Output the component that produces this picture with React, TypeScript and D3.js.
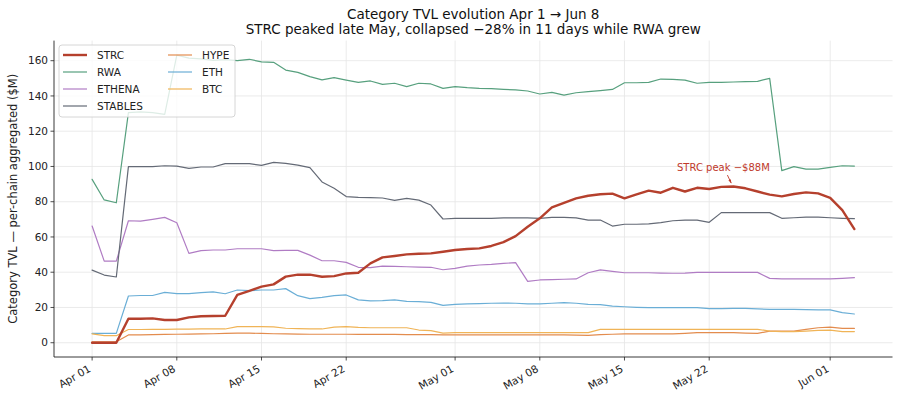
import React from "react";
import * as d3 from "d3";

// daily values, Apr 1 .. Jun 3 ($M)
const strc = [
  0, 0, 0, 13.6, 13.6, 13.8, 12.9, 12.9, 14.4, 15.0, 15.2, 15.3, 27.1, 29.4, 31.8, 33.1,
  37.5, 38.6, 38.6, 37.4, 37.8, 39.3, 39.7, 45.0, 48.4, 49.2, 50.1, 50.5, 50.7, 51.6, 52.6, 53.2,
  53.5, 54.9, 57.1, 60.5, 65.8, 70.6, 76.8, 79.4, 81.9, 83.4, 84.2, 84.6, 81.9, 84.2, 86.3, 85.1,
  87.9, 85.8, 87.9, 87.2, 88.4, 88.6, 87.6, 85.8, 84.0, 83.0, 84.4, 85.3, 84.7, 82.2, 75.2, 64.5,
];
const rwa = [
  92.7, 81.0, 79.4, 130.5, 131.0, 130.5, 129.5, 163.2, 161.5, 161.0, 160.2, 160.6, 160.0, 160.8, 159.3, 159.1,
  154.7, 153.4, 151.0, 149.1, 150.4, 149.0, 147.7, 148.5, 146.6, 147.2, 145.3, 147.2, 146.8, 144.3, 145.3, 144.7,
  144.3, 144.1, 143.7, 143.4, 142.8, 141.1, 142.0, 140.5, 141.8, 142.4, 143.0, 143.7, 147.5, 147.5, 147.7, 149.6,
  149.4, 149.0, 147.2, 147.7, 147.7, 147.9, 148.1, 148.3, 150.0, 97.6, 99.9, 98.5, 98.5, 99.5, 100.4, 100.2,
];
const ethena = [
  66.2, 46.3, 46.3, 69.2, 69.0, 70.0, 71.1, 68.1, 50.7, 52.2, 52.6, 52.6, 53.3, 53.3, 53.3, 52.2,
  52.4, 52.4, 49.7, 46.5, 46.5, 45.6, 42.8, 42.6, 43.5, 43.3, 43.1, 42.9, 42.8, 41.4, 42.2, 43.5,
  44.1, 44.4, 45.0, 45.4, 34.8, 35.6, 35.8, 36.0, 36.2, 39.7, 41.3, 40.5, 39.7, 39.7, 39.7, 39.5,
  39.4, 39.5, 39.9, 39.9, 39.9, 39.9, 39.9, 39.9, 36.5, 36.2, 36.2, 36.2, 36.2, 36.2, 36.5, 36.9,
];
const stables = [
  41.2, 38.4, 37.3, 99.9, 99.9, 99.9, 100.4, 100.2, 98.9, 99.7, 99.7, 101.6, 101.6, 101.6, 100.6, 102.3,
  101.7, 100.8, 99.3, 91.2, 87.6, 82.9, 82.5, 82.3, 82.1, 80.8, 81.9, 80.9, 78.1, 70.2, 70.6, 70.6,
  70.6, 70.6, 70.8, 70.9, 70.8, 70.6, 71.1, 71.1, 70.8, 69.6, 69.6, 66.2, 67.2, 67.2, 67.4, 68.1,
  69.2, 69.6, 69.6, 68.3, 73.8, 73.8, 73.8, 73.8, 73.8, 70.6, 70.9, 71.3, 71.3, 70.9, 70.6, 70.4,
];
const hype = [
  0.5, 0.5, 0.5, 4.4, 4.5, 4.6, 4.7, 4.8, 4.9, 5.0, 5.1, 5.3, 5.4, 5.4, 5.3, 5.1,
  5.0, 4.9, 4.8, 4.8, 4.8, 4.8, 4.7, 4.7, 4.7, 4.7, 4.6, 4.6, 4.6, 4.4, 4.4, 4.4,
  4.4, 4.4, 4.4, 4.4, 4.4, 4.4, 4.4, 4.4, 4.3, 4.2, 4.6, 4.8, 5.0, 5.0, 5.0, 5.0,
  5.0, 5.3, 5.7, 5.7, 5.7, 5.7, 5.5, 5.3, 6.6, 6.6, 6.6, 7.6, 8.5, 8.9, 8.1, 8.1,
];
const eth = [
  5.3, 5.3, 5.3, 26.5, 26.8, 26.8, 28.6, 27.8, 27.8, 28.4, 28.8, 27.8, 29.9, 29.5, 29.9, 29.9,
  30.7, 26.7, 25.0, 25.7, 26.7, 27.1, 24.3, 23.7, 23.9, 24.3, 23.5, 23.3, 22.9, 21.2, 21.8, 22.0,
  22.2, 22.4, 22.5, 22.4, 22.0, 22.0, 22.4, 22.7, 22.4, 21.8, 21.6, 20.8, 20.4, 20.1, 19.9, 19.9,
  19.9, 19.9, 19.9, 19.3, 19.3, 19.5, 19.5, 19.2, 18.9, 18.9, 18.9, 18.8, 18.6, 18.6, 17.1, 16.3,
];
const btc = [
  5.0, 4.0, 4.0, 7.5, 7.5, 7.6, 7.6, 7.7, 7.7, 7.8, 7.8, 7.8, 9.1, 9.1, 9.1, 9.0,
  8.2, 8.0, 7.9, 7.8, 8.9, 9.1, 8.7, 8.5, 8.5, 8.5, 8.5, 7.2, 6.9, 5.4, 5.7, 5.7,
  5.7, 5.7, 5.7, 5.7, 5.7, 5.7, 5.7, 5.7, 5.7, 5.7, 7.6, 7.6, 7.6, 7.6, 7.6, 7.6,
  7.6, 7.6, 7.6, 7.6, 7.6, 7.6, 7.6, 7.6, 6.6, 6.3, 6.3, 6.6, 7.0, 7.2, 6.3, 6.3,
];

const seriesNames = ["STRC", "RWA", "ETHENA", "STABLES", "HYPE", "ETH", "BTC"];
const seriesValues = [strc, rwa, ethena, stables, hype, eth, btc];
const seriesColors = ["#b5402d", "#57a07e", "#b07cc4", "#646a76", "#e38c4e", "#6aaed6", "#f0b457"];
const yTicks = [0, 20, 40, 60, 80, 100, 120, 140, 160];
const xTickDates = ["2025-04-01", "2025-04-08", "2025-04-15", "2025-04-22", "2025-05-01", "2025-05-08", "2025-05-15", "2025-05-22", "2025-06-01"];
const startDate = "2025-04-01";
const peakIndex = 53;

const W = 900;
const H = 404;
const font = "DejaVu Sans, sans-serif";

const App: React.FC = () => {
  const start = new Date(startDate + "T00:00:00Z");
  const dates = strc.map((_, i) => d3.utcDay.offset(start, i));
  const pad = 3.15 * 24 * 3600 * 1000;
  const x = d3
    .scaleUtc()
    .domain([new Date(+dates[0] - pad), new Date(+dates[dates.length - 1] + pad)])
    .range([54, 892.5]);
  const y = d3.scaleLinear().domain([-8.1, 171.4]).range([357, 40.6]);
  const [x0, x1] = x.range();
  const [yb, yt] = y.range();
  const fmt = d3.utcFormat("%b %d");
  const ticks = xTickDates.map((s) => new Date(s + "T00:00:00Z"));

  const line = (vals: number[]) =>
    d3
      .line<number>()
      .x((_, i) => x(dates[i]))
      .y((v) => y(v))(vals) || "";

  // STRC drawn last so it sits on top
  const order = [1, 2, 3, 4, 5, 6, 0];
  const px = x(dates[peakIndex]);
  const py = y(strc[peakIndex]);

  return (
    <svg width={W} height={H} style={{ position: "absolute", left: 0, top: 0, background: "#fff" }} fontFamily={font}>
      <rect width={W} height={H} fill="#fff" />
      {/* grid */}
      {yTicks.map((t) => (
        <line key={"gy" + t} x1={x0} x2={x1} y1={y(t)} y2={y(t)} stroke="#e6e6e6" strokeWidth={0.8} />
      ))}
      {ticks.map((t, i) => (
        <line key={"gx" + i} x1={x(t)} x2={x(t)} y1={yb} y2={yt} stroke="#e6e6e6" strokeWidth={0.8} />
      ))}

      {/* series */}
      {order.map((k) => (
        <path
          key={seriesNames[k]}
          d={line(seriesValues[k])}
          fill="none"
          stroke={seriesColors[k]}
          strokeWidth={k === 0 ? 2.4 : 1.2}
          strokeLinejoin="round"
          strokeLinecap="round"
        />
      ))}

      {/* annotation */}
      <text x={px - 10} y={py - 15.5} textAnchor="middle" fontSize={10} fill="#c0392b">
        STRC peak −$88M
      </text>
      <line x1={px - 6} y1={py - 11.5} x2={px - 2.2} y2={py - 3.5} stroke="#c0392b" strokeWidth={0.9} />
      <path
        d={`M${px - 2} ${py - 3} L${px - 5} ${py - 6.2} L${px - 2.6} ${py - 7.2} Z`}
        fill="#c0392b"
      />

      {/* axes */}
      <line x1={x0} x2={x1} y1={yb} y2={yb} stroke="#222" strokeWidth={0.9} />
      <line x1={x0} x2={x0} y1={yb} y2={yt} stroke="#222" strokeWidth={0.9} />
      {yTicks.map((t) => (
        <g key={"ty" + t}>
          <line x1={x0 - 3.5} x2={x0} y1={y(t)} y2={y(t)} stroke="#222" strokeWidth={0.8} />
          <text x={x0 - 6} y={y(t)} dy="0.35em" textAnchor="end" fontSize={10.5} fill="#222">
            {t}
          </text>
        </g>
      ))}
      {ticks.map((t, i) => (
        <g key={"tx" + i}>
          <line x1={x(t)} x2={x(t)} y1={yb} y2={yb + 3.5} stroke="#222" strokeWidth={0.8} />
          <text
            transform={`translate(${x(t) - 4.5},${yb + 7}) rotate(-30)`}
            dy="0.76em"
            textAnchor="end"
            fontSize={10.5}
            fill="#222"
          >
            {fmt(t)}
          </text>
        </g>
      ))}
      <text transform={`translate(17,${(yb + yt) / 2}) rotate(-90)`} textAnchor="middle" fontSize={11.5} fill="#222">
        Category TVL — per-chain aggregated ($M)
      </text>

      {/* title */}
      <text x={(x0 + x1) / 2} y={19} textAnchor="middle" fontSize={13.5} fill="#111">
        Category TVL evolution Apr 1 → Jun 8
      </text>
      <text x={(x0 + x1) / 2} y={34} textAnchor="middle" fontSize={13.5} fill="#111">
        STRC peaked late May, collapsed −28% in 11 days while RWA grew
      </text>

      {/* legend */}
      <rect x={59} y={45} width={176} height={72} rx={3} fill="#fff" fillOpacity={0.8} stroke="#cccccc" strokeWidth={0.8} />
      {seriesNames.map((name, i) => {
        const col = i < 4 ? 0 : 1;
        const row = i < 4 ? i : i - 4;
        const lx = col === 0 ? 63 : 168;
        const ly = 55 + row * 17;
        return (
          <g key={"lg" + name}>
            <line x1={lx} x2={lx + 24} y1={ly} y2={ly} stroke={seriesColors[i]} strokeWidth={i === 0 ? 2.4 : 1.2} />
            <text x={lx + 34} y={ly} dy="0.36em" fontSize={10.5} fill="#222">
              {name}
            </text>
          </g>
        );
      })}
    </svg>
  );
};

export default App;
